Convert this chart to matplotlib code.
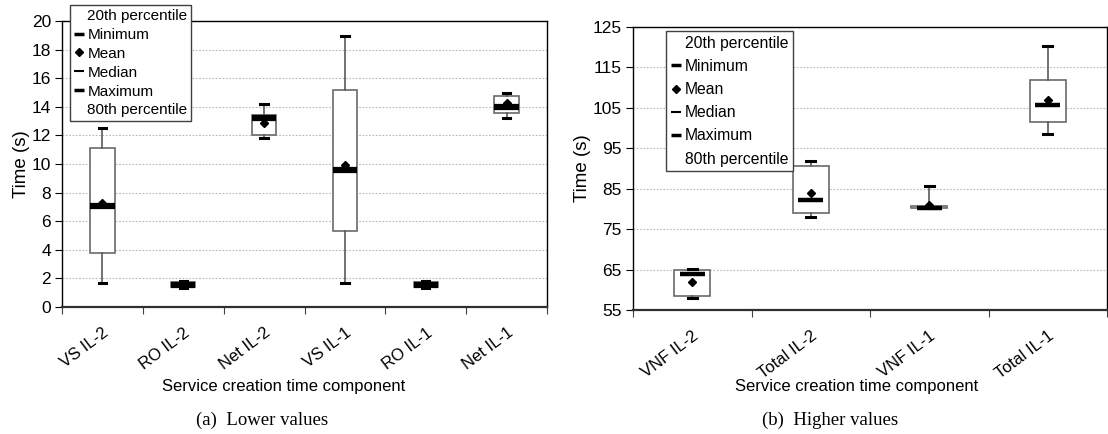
import numpy as np
import matplotlib
matplotlib.use("Agg")
import matplotlib.pyplot as plt
from matplotlib.lines import Line2D

plt.rcParams['font.family'] = ['Liberation Sans', 'DejaVu Sans']

# (a) lower values
cats_a = ['VS IL-2', 'RO IL-2', 'Net IL-2', 'VS IL-1', 'RO IL-1', 'Net IL-1']
min_a = [1.65, 1.35, 11.85, 1.65, 1.35, 13.25]
p20_a = [3.8, 1.4, 12.0, 5.35, 1.4, 13.6]
med_a = [7.05, 1.55, 13.2, 9.55, 1.55, 14.0]
mean_a = [7.3, 1.6, 12.9, 9.95, 1.6, 14.25]
p80_a = [11.15, 1.75, 13.45, 15.2, 1.75, 14.75]
max_a = [12.5, 1.8, 14.2, 18.95, 1.8, 14.95]

# (b) higher values
cats_b = ['VNF IL-2', 'Total IL-2', 'VNF IL-1', 'Total IL-1']
min_b = [58.0, 78.1, 80.3, 98.5]
p20_b = [58.45, 78.9, 80.35, 101.4]
med_b = [63.8, 82.2, 80.3, 105.7]
mean_b = [61.9, 83.9, 81.0, 107.0]
p80_b = [64.8, 90.7, 80.85, 112.0]
max_b = [65.2, 91.9, 85.8, 120.2]

legend_labels = ['20th percentile', 'Minimum', 'Mean', 'Median', 'Maximum', '80th percentile']


def draw_panel(ax, cats, mins, p20, med, mean, p80, maxs, ylim, yticks,
               med_w, med_lw, capw):
    pos = np.arange(1, len(cats) + 1)
    stats = []
    for i in range(len(cats)):
        stats.append({'whislo': mins[i], 'q1': p20[i], 'med': med[i],
                      'mean': mean[i], 'q3': p80[i], 'whishi': maxs[i]})
    ax.bxp(stats, positions=pos, widths=0.3, patch_artist=True,
           showmeans=False, showfliers=False, capwidths=capw,
           boxprops={'facecolor': 'white', 'edgecolor': '#6a6a6a', 'linewidth': 1.2},
           whiskerprops={'color': '#5a5a5a', 'linewidth': 1.2},
           capprops={'color': 'black', 'linewidth': 2.2},
           medianprops={'linewidth': 0},
           zorder=3)
    ax.hlines(med, pos - med_w / 2, pos + med_w / 2, colors='black',
              linewidth=med_lw, zorder=4)
    ax.plot(pos, mean, 'D', color='black', markersize=4.5, zorder=5)

    ax.set_xlim(0.5, len(cats) + 0.5)
    ax.set_ylim(*ylim)
    ax.set_yticks(yticks)
    ax.set_xticks(np.arange(0.5, len(cats) + 1))
    ax.set_xticklabels([])
    ax.set_xticks(pos, minor=True)
    ax.set_xticklabels(cats, minor=True, rotation=37, ha='right',
                       rotation_mode='anchor', fontsize=12)
    ax.tick_params(axis='x', which='minor', length=0, pad=13)
    ax.tick_params(axis='x', which='major', length=5, direction='out', color='#404040')
    ax.tick_params(axis='y', length=5, direction='out', labelsize=12.5, pad=3)
    ax.grid(axis='y', color='#b8b8b8', linestyle=(0, (1.5, 1.5)), linewidth=0.8)
    ax.set_axisbelow(True)
    for s in ['left', 'top', 'right']:
        ax.spines[s].set_color('black')
        ax.spines[s].set_linewidth(1.0)
    ax.spines['bottom'].set_color('#303030')
    ax.spines['bottom'].set_linewidth(1.6)
    ax.set_ylabel('Time (s)', fontsize=13.5, labelpad=1)


def legend_handles():
    return [Line2D([], [], linestyle='none'),
            Line2D([], [], linestyle='none', marker='_', color='black', markersize=7, mew=2.5),
            Line2D([], [], linestyle='none', marker='D', color='black', markersize=4),
            Line2D([], [], linestyle='none', marker='_', color='black', markersize=7, mew=1.5),
            Line2D([], [], linestyle='none', marker='_', color='black', markersize=7, mew=2.5),
            Line2D([], [], linestyle='none')]


fig = plt.figure(figsize=(11.08, 4.34), dpi=100)
ax1 = fig.add_axes([0.056, 0.2926, 0.4377, 0.659])
ax2 = fig.add_axes([0.5713, 0.2857, 0.4278, 0.652])

draw_panel(ax1, cats_a, min_a, p20_a, med_a, mean_a, p80_a, max_a,
           (0, 20), np.arange(0, 21, 2), 0.3, 4.5, 0.09)
draw_panel(ax2, cats_b, min_b, p20_b, med_b, mean_b, p80_b, max_b,
           (55, 125), np.arange(55, 126, 10), 0.21, 3.2, 0.08)

fig.legend(legend_handles(), legend_labels, loc='upper left',
           bbox_to_anchor=(0.063, 0.988), fontsize=11, frameon=True,
           fancybox=False, edgecolor='#404040', framealpha=1,
           borderpad=0.25, labelspacing=0.32, handlelength=0.7,
           handletextpad=0.2, borderaxespad=0)
fig.legend(legend_handles(), legend_labels, loc='upper left',
           bbox_to_anchor=(0.601, 0.9286), fontsize=11.3, frameon=True,
           fancybox=False, edgecolor='#404040', framealpha=1,
           borderpad=0.3, labelspacing=0.52, handlelength=0.7,
           handletextpad=0.2, borderaxespad=0)

fig.text(284 / 1108, 1 - 386 / 434, 'Service creation time component',
         ha='center', va='center', fontsize=12)
fig.text(857 / 1108, 1 - 386 / 434, 'Service creation time component',
         ha='center', va='center', fontsize=12)
fig.text(262 / 1108, 1 - 420 / 434, '(a)  Lower values', ha='center', va='center',
         fontsize=13.5, family=['Liberation Serif', 'DejaVu Serif'])
fig.text(830 / 1108, 1 - 420 / 434, '(b)  Higher values', ha='center', va='center',
         fontsize=13.5, family=['Liberation Serif', 'DejaVu Serif'])

fig.savefig('out.png', dpi=100)
